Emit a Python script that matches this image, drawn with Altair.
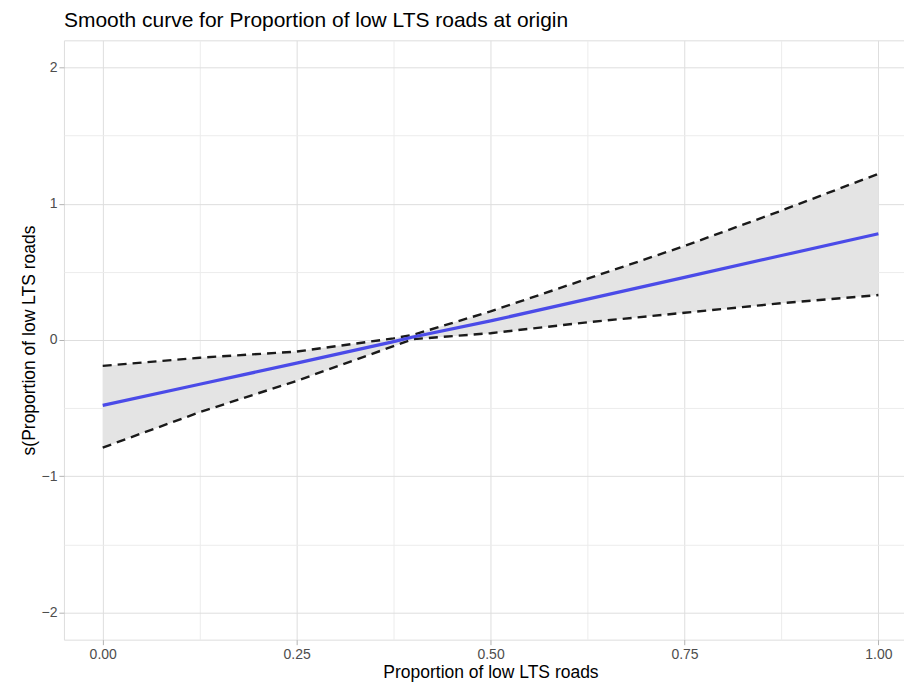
import altair as alt
import pandas as pd

# Values
x_vals = [0.0, 0.125, 0.25, 0.375, 0.4, 0.5, 0.625, 0.75, 0.875, 1.0]
fit_vals = [-0.48, -0.325, -0.17, -0.012, 0.022, 0.14, 0.30, 0.46, 0.62, 0.78]
upper_vals = [-0.19, -0.13, -0.085, 0.012, 0.038, 0.21, 0.45, 0.69, 0.95, 1.22]
lower_vals = [-0.79, -0.53, -0.30, -0.045, 0.006, 0.05, 0.13, 0.20, 0.27, 0.33]

x_ticks = [0.0, 0.125, 0.25, 0.375, 0.5, 0.625, 0.75, 0.875, 1.0]
y_ticks = [-2.0, -1.5, -1.0, -0.5, 0.0, 0.5, 1.0, 1.5, 2.0]

title_text = "Smooth curve for Proportion of low LTS roads at origin"
x_title = "Proportion of low LTS roads"
y_title = "s(Proportion of low LTS roads"

df = pd.DataFrame({"x": x_vals, "fit": fit_vals, "upper": upper_vals, "lower": lower_vals})

FONT = "Liberation Sans"
x_major = "abs(datum.value*4 - round(datum.value*4)) < 0.000001"
y_major = "abs(datum.value - round(datum.value)) < 0.000001"

x_enc = alt.X(
    "x:Q",
    scale=alt.Scale(domain=[-0.05, 1.033], nice=False, zero=False),
    axis=alt.Axis(
        title=x_title,
        values=x_ticks,
        labelExpr=f"({x_major}) ? format(datum.value, '.2f') : ''",
        grid=True,
        gridColor={"condition": {"test": x_major, "value": "#dedede"}, "value": "#ececec"},
        gridWidth=1,
        tickOpacity={"condition": {"test": x_major, "value": 1}, "value": 0},
        tickColor="#b3b3b3",
        tickSize=5,
        domain=False,
        labelColor="#4d4d4d",
        labelFontSize=14,
        labelFont=FONT,
        labelPadding=3,
        titleFont=FONT,
        titleFontSize=17.5,
        titleFontWeight="normal",
        titleColor="black",
        titlePadding=2,
        titleX=427,
        titleAnchor="start",
        titleAlign="center",
    ),
)

y_scale = alt.Scale(domain=[-2.2, 2.2], nice=False, zero=False)
y_axis = alt.Axis(
    title=y_title,
    values=y_ticks,
    labelExpr=f"({y_major}) ? format(datum.value, 'd') : ''",
    grid=True,
    gridColor={"condition": {"test": y_major, "value": "#dedede"}, "value": "#ececec"},
    gridWidth=1,
    tickOpacity={"condition": {"test": y_major, "value": 1}, "value": 0},
    tickColor="#b3b3b3",
    tickSize=5,
    domain=False,
    labelColor="#4d4d4d",
    labelFontSize=14,
    labelFont=FONT,
    labelPadding=2,
    titleFont=FONT,
    titleFontSize=17.5,
    titleFontWeight="normal",
    titleColor="black",
    titlePadding=2,
)

base = alt.Chart(df)

band = base.mark_area(color="#e4e4e4", opacity=1).encode(
    x=x_enc,
    y=alt.Y("lower:Q", scale=y_scale, axis=y_axis),
    y2="upper:Q",
)
upper_line = base.mark_line(color="#1a1a1a", strokeWidth=2.4, strokeDash=[9, 6]).encode(
    x="x:Q", y="upper:Q"
)
lower_line = base.mark_line(color="#1a1a1a", strokeWidth=2.4, strokeDash=[9, 6]).encode(
    x="x:Q", y="lower:Q"
)
fit_line = base.mark_line(color="#4b4be8", strokeWidth=3.2).encode(x="x:Q", y="fit:Q")

chart = (
    alt.layer(band, upper_line, lower_line, fit_line)
    .properties(
        width=841,
        height=600,
        padding={"left": 64, "top": 40, "right": 0, "bottom": 43},
        autosize=alt.AutoSizeParams(type="none"),
        title=alt.TitleParams(
            title_text,
            anchor="start",
            frame="group",
            fontSize=21,
            font=FONT,
            fontWeight="normal",
            color="black",
            offset=9,
        ),
    )
    .configure_view(stroke="#acacac", strokeWidth=1.6)
    .configure(background="white")
)

chart.save("out.html", embed_options={"renderer": "svg", "actions": False})
